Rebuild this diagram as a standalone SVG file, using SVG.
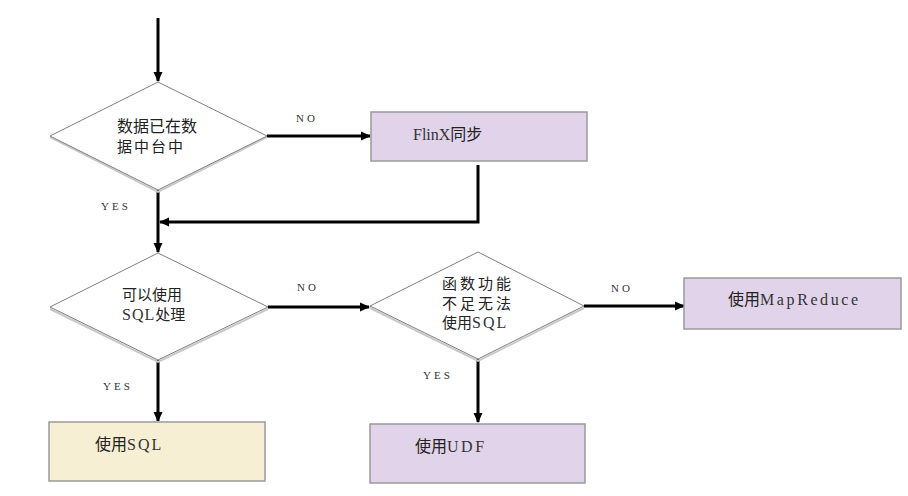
<svg xmlns="http://www.w3.org/2000/svg" width="908" height="496" viewBox="0 0 908 496">
<style>
.dia{fill:#fff;stroke:#7f7f7f;stroke-width:1}
.sh{fill:none;stroke:#c8c8c8;stroke-width:2}
.purple{fill:#e1d4ea;stroke:#9a9a9a;stroke-width:1.5}
.yellow{fill:#f6efd4;stroke:#9a9a9a;stroke-width:1.5}
.cjk{font-family:"Noto Sans CJK SC","Liberation Sans",sans-serif;font-size:15px;fill:#222}
.big{font-size:16px}
.lat{font-family:"Liberation Serif","Noto Sans CJK SC",serif;font-size:16px;fill:#333}
.mono{font-family:"Liberation Serif","Noto Sans CJK SC",serif;font-size:16px;fill:#333;letter-spacing:2px}
.lbl{font-family:"Liberation Serif",serif;font-size:11px;fill:#333;letter-spacing:3px}
.conn{fill:none;stroke:#000;stroke-width:3}
</style>
<defs>
<marker id="ah" markerWidth="10" markerHeight="10" refX="9" refY="5" orient="auto" markerUnits="userSpaceOnUse">
<path d="M0,0.5 L10,5 L0,9.5 Z" fill="#000"/>
</marker>
</defs>
<g id="connectors">
<line class="conn" x1="158" y1="18" x2="158" y2="81" marker-end="url(#ah)"/>
<line class="conn" x1="267" y1="136" x2="370" y2="136" marker-end="url(#ah)"/>
<polyline class="conn" points="478,165 478,222 160,222" marker-end="url(#ah)"/>
<line class="conn" x1="158" y1="190" x2="158" y2="252" marker-end="url(#ah)"/>
<line class="conn" x1="268" y1="307" x2="369" y2="307" marker-end="url(#ah)"/>
<line class="conn" x1="584" y1="306" x2="684" y2="306" marker-end="url(#ah)"/>
<line class="conn" x1="158" y1="360" x2="158" y2="421" marker-end="url(#ah)"/>
<line class="conn" x1="478" y1="359" x2="478" y2="422" marker-end="url(#ah)"/>
<text class="lbl" x="296" y="122">NO</text>
<text class="lbl" x="101" y="210">YES</text>
<text class="lbl" x="297" y="291">NO</text>
<text class="lbl" x="611" y="292">NO</text>
<text class="lbl" x="103" y="390">YES</text>
<text class="lbl" x="423" y="379">YES</text>
</g>
<g id="d1">
<polyline class="sh" points="50,137 158,192 267,137"/>
<polygon class="dia" points="158,82 267,136 158,190 50,136"/>
<text class="cjk big" x="117" y="132">数据已在数</text>
<text class="cjk" x="117" y="152" style="letter-spacing:2px">据中台中</text>
</g>
<g id="flinx">
<rect class="purple" x="371" y="112" width="216" height="49"/>
<text x="413" y="140"><tspan class="lat">FlinX</tspan><tspan class="cjk big">同步</tspan></text>
</g>
<g id="d2">
<polyline class="sh" points="50,309 158,362 268,309"/>
<polygon class="dia" points="158,253 268,307 158,360 50,307"/>
<text class="cjk" x="122" y="300">可以使用</text>
<text x="122" y="320"><tspan class="mono" style="letter-spacing:1px">SQL</tspan><tspan class="cjk">处理</tspan></text>
</g>
<g id="d3">
<polyline class="sh" points="370,308 478,361 584,308"/>
<polygon class="dia" points="478,252 584,306 478,359 370,306"/>
<text class="cjk" x="442" y="289" style="letter-spacing:3px">函数功能</text>
<text class="cjk" x="442" y="309" style="letter-spacing:3px">不足无法</text>
<text x="442" y="328"><tspan class="cjk">使用</tspan><tspan class="mono">SQL</tspan></text>
</g>
<g id="mapreduce">
<rect class="purple" x="684" y="278" width="217" height="51"/>
<text x="728" y="305"><tspan class="cjk big">使用</tspan><tspan class="mono" style="letter-spacing:2.6px">MapReduce</tspan></text>
</g>
<g id="sql">
<rect class="yellow" x="49" y="422" width="216" height="59"/>
<text x="95" y="450"><tspan class="cjk big">使用</tspan><tspan class="mono">SQL</tspan></text>
</g>
<g id="udf">
<rect class="purple" x="370" y="424" width="215" height="59"/>
<text x="415" y="452"><tspan class="cjk big">使用</tspan><tspan class="mono" style="letter-spacing:2.5px">UDF</tspan></text>
</g>
</svg>
